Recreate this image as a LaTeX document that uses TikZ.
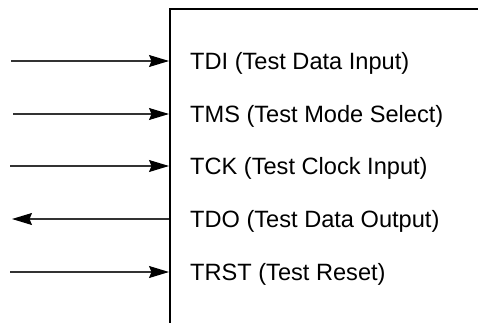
\documentclass[tikz,border=0pt]{standalone}
\usepackage{fontspec}
\setmainfont{Liberation Sans}
\usetikzlibrary{arrows.meta,positioning}

\begin{document}
\begin{tikzpicture}[x=1pt,y=1pt,every node/.style={font=\fontsize{23.6}{28}\selectfont,inner sep=0pt},
  pin/.style={line width=1.1pt,draw=black!80,-{Stealth[length=20pt,width=12pt,inset=2.5pt,black]}},
  pinlabel/.style={anchor=base west}]
\useasboundingbox (0,0) rectangle (478,322);
\draw[line width=2.4pt] (170,-2) -- (170,313) -- (480,313);
\coordinate (tdi-ext) at (11,261);
\coordinate (tms-ext) at (13,208);
\coordinate (tck-ext) at (10,156);
\coordinate (tdo-ext) at (12,103);
\coordinate (trst-ext) at (10,50);
\coordinate (tdi-pin) at (169,261);
\coordinate (tms-pin) at (169,208);
\coordinate (tck-pin) at (169,156);
\coordinate (tdo-pin) at (169,103);
\coordinate (trst-pin) at (169,50);
\draw[pin] (tdi-ext) -- (tdi-pin);
\draw[pin] (tms-ext) -- (tms-pin);
\draw[pin] (tck-ext) -- (tck-pin);
\draw[pin] (tdo-pin) -- (tdo-ext);
\draw[pin] (trst-ext) -- (trst-pin);
\node[pinlabel] (tdi) at (190,253) {TDI (Test Data Input)};
\node[pinlabel] (tms) at (190,200) {TMS (Test Mode Select)};
\node[pinlabel] (tck) at (190,148) {TCK (Test Clock Input)};
\node[pinlabel] (tdo) at (190,95) {TDO (Test Data Output)};
\node[pinlabel] (trst) at (190,42) {TRST (Test Reset)};
\end{tikzpicture}
\end{document}
